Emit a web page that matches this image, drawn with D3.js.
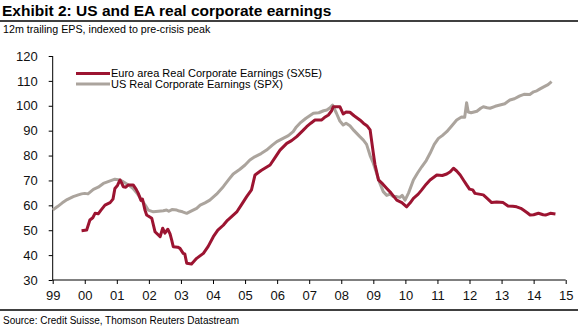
<!DOCTYPE html>
<html><head><meta charset="utf-8">
<script src="https://cdn.jsdelivr.net/npm/d3@7"></script>
<style>
body{margin:0;background:#fff;}
svg{display:block;font-family:"Liberation Sans",Arial,sans-serif;}
</style></head><body>
<svg id="c" width="578" height="329"></svg>
<script>
const titleText = "Exhibit 2: US and EA real corporate earnings";
const subtitleText = "12m trailing EPS, indexed to pre-crisis peak";
const sourceText = "Source: Credit Suisse, Thomson Reuters Datastream";
const seriesNames = ["Euro area Real Corporate Earnings (SX5E)", "US Real Corporate Earnings (SPX)"];
const xTickYears = [1999,2000,2001,2002,2003,2004,2005,2006,2007,2008,2009,2010,2011,2012,2013,2014,2015];
const xTickLabels = ["99","00","01","02","03","04","05","06","07","08","09","10","11","12","13","14","15"];
const yTicks = [30,40,50,60,70,80,90,100,110,120];

const usYears = [1999.0,1999.15,1999.3,1999.45,1999.64,1999.8,1999.9,2000.0,2000.1,2000.27,2000.42,2000.58,2000.75,2000.94,2001.05,2001.2,2001.35,2001.5,2001.65,2001.78,2001.9,2001.98,2002.14,2002.3,2002.45,2002.55,2002.62,2002.72,2002.87,2002.95,2003.05,2003.18,2003.3,2003.49,2003.6,2003.75,2003.9,2004.11,2004.32,2004.5,2004.63,2004.84,2005.0,2005.15,2005.3,2005.5,2005.67,2005.85,2005.99,2006.2,2006.35,2006.5,2006.6,2006.71,2006.9,2007.13,2007.3,2007.45,2007.55,2007.65,2007.73,2007.85,2007.95,2008.06,2008.15,2008.27,2008.4,2008.58,2008.69,2008.79,2008.9,2009.0,2009.1,2009.2,2009.31,2009.42,2009.52,2009.62,2009.73,2009.83,2009.9,2009.99,2010.1,2010.25,2010.38,2010.51,2010.65,2010.77,2010.9,2011.03,2011.15,2011.29,2011.45,2011.6,2011.75,2011.85,2011.91,2011.96,2012.05,2012.23,2012.35,2012.43,2012.55,2012.64,2012.8,2012.95,2013.1,2013.26,2013.4,2013.57,2013.7,2013.88,2014.0,2014.1,2014.2,2014.3,2014.45,2014.56];
const usValues = [58.1,59.5,61.0,62.3,63.5,64.2,64.6,64.8,64.6,66.4,67.3,68.8,69.6,70.5,70.3,69.5,68.3,66.8,64.5,62.1,59.8,58.1,57.4,57.6,57.8,58.1,57.6,58.3,58.1,57.7,57.4,56.8,57.6,58.8,60.1,61.0,62.1,64.5,67.5,70.5,72.6,74.5,76.2,78.2,79.5,80.8,82.2,84.2,85.6,87.0,88.0,89.6,91.5,93.0,95.0,97.0,97.2,98.0,98.3,99.2,100.3,97.0,94.0,92.3,93.0,92.0,90.0,87.6,86.2,84.5,80.0,76.9,73.0,69.0,65.5,64.0,64.5,63.5,63.5,63.2,64.0,62.1,65.0,70.2,73.0,75.5,78.0,80.9,84.5,86.9,88.0,89.6,92.0,94.3,95.5,95.4,101.2,97.5,97.2,97.8,99.0,99.6,99.2,99.0,99.8,100.3,100.8,102.3,102.8,104.0,104.6,104.5,105.6,106.0,106.8,107.5,108.5,109.7];

const euYears = [1999.9,2000.06,2000.16,2000.25,2000.32,2000.42,2000.5,2000.63,2000.79,2000.88,2000.94,2001.02,2001.1,2001.15,2001.2,2001.28,2001.36,2001.51,2001.6,2001.67,2001.75,2001.8,2001.88,2001.93,2002.09,2002.19,2002.35,2002.43,2002.5,2002.59,2002.66,2002.71,2002.76,2002.9,2002.97,2003.07,2003.12,2003.18,2003.33,2003.49,2003.7,2003.85,2004.01,2004.15,2004.32,2004.45,2004.58,2004.75,2004.9,2005.05,2005.2,2005.31,2005.5,2005.78,2005.95,2006.09,2006.3,2006.45,2006.61,2006.8,2006.92,2007.05,2007.18,2007.39,2007.5,2007.6,2007.7,2007.75,2007.96,2008.06,2008.15,2008.27,2008.4,2008.58,2008.69,2008.8,2008.9,2009.0,2009.05,2009.16,2009.3,2009.42,2009.55,2009.73,2009.89,2010.04,2010.15,2010.25,2010.4,2010.51,2010.65,2010.77,2010.98,2011.15,2011.29,2011.4,2011.5,2011.6,2011.71,2011.82,2011.91,2012.0,2012.1,2012.17,2012.3,2012.43,2012.55,2012.69,2012.85,2013.05,2013.2,2013.35,2013.47,2013.6,2013.68,2013.8,2013.89,2014.0,2014.15,2014.3,2014.37,2014.52,2014.68];
const euValues = [49.8,50.1,54.1,55.0,56.8,56.6,58.0,60.1,61.1,62.5,66.8,68.0,70.2,69.0,67.5,67.3,68.2,68.2,66.5,64.8,62.0,62.5,58.0,56.1,54.8,49.4,47.4,50.8,48.8,50.4,48.5,46.1,43.4,43.2,42.7,40.7,40.5,36.7,36.4,38.7,40.7,43.5,47.4,50.0,52.0,54.0,55.5,57.5,60.5,63.5,66.2,72.2,74.0,76.2,79.5,82.2,84.9,86.0,87.6,90.0,91.6,93.0,94.3,94.3,95.5,96.3,98.0,99.6,99.6,96.7,97.5,97.4,96.0,94.3,93.0,92.0,90.3,80.9,76.5,70.2,68.5,66.8,65.0,62.1,61.1,59.4,61.0,62.8,64.5,66.2,68.5,70.2,72.2,72.0,72.6,73.5,74.9,73.8,72.2,70.0,68.2,66.5,66.2,64.8,64.5,64.2,62.8,61.1,61.3,61.1,59.7,59.6,59.4,58.8,58.1,57.0,56.1,56.2,56.8,56.2,56.1,56.8,56.5];

const colors = ["#9c1431", "#aba49d"];

const svg = d3.select("#c");
const x = d3.scaleLinear().domain([1999, 2015]).range([52.7, 565.7]);
const y = d3.scaleLinear().domain([30, 120]).range([280, 56]);

// header
svg.append("text").attr("x", 2).attr("y", 16).attr("font-size", 15.5).attr("font-weight", "bold").attr("fill", "#000").text(titleText);
svg.append("line").attr("x1", 0).attr("x2", 578).attr("y1", 21).attr("y2", 21).attr("stroke", "#000").attr("stroke-width", 1.5);
svg.append("text").attr("x", 3).attr("y", 33).attr("font-size", 10.7).attr("fill", "#000").text(subtitleText);

// axes
const yAxis = d3.axisLeft(y).tickValues(yTicks).tickSize(4).tickPadding(11).tickFormat(d3.format("d"));
const gy = svg.append("g").attr("transform", `translate(${x(1999)},0)`).call(yAxis);
const xAxis = d3.axisBottom(x).tickValues(xTickYears).tickSize(4).tickPadding(7).tickFormat((d, i) => xTickLabels[i]);
const gx = svg.append("g").attr("transform", `translate(0,${y(30)})`).call(xAxis);
[gx, gy].forEach(g => {
  g.select(".domain").attr("stroke", "#000");
  g.selectAll(".tick line").attr("stroke", "#000");
  g.selectAll(".tick text").attr("font-size", 13).attr("fill", "#111").attr("font-family", '"Liberation Sans",Arial,sans-serif');
});
gx.select(".domain").attr("d", `M${x(1999)},0H${x(2015)}`);
gy.select(".domain").attr("d", `M0,${y(120)}V${y(30)}`);

// lines
const line = d3.line().x(d => x(d[0])).y(d => y(d[1]));
const euData = d3.zip(euYears, euValues);
const usData = d3.zip(usYears, usValues);
svg.append("path").datum(usData).attr("d", line).attr("fill", "none").attr("stroke", colors[1]).attr("stroke-width", 3).attr("stroke-linejoin", "round");
svg.append("path").datum(euData).attr("d", line).attr("fill", "none").attr("stroke", colors[0]).attr("stroke-width", 3).attr("stroke-linejoin", "round");

// legend
const legend = svg.append("g");
seriesNames.forEach((name, i) => {
  const ly = 73.5 + i * 10.5;
  legend.append("line").attr("x1", 76).attr("x2", 110).attr("y1", ly).attr("y2", ly).attr("stroke", colors[i]).attr("stroke-width", 3);
  legend.append("text").attr("x", 111).attr("y", ly + 3.8).attr("font-size", 11).attr("fill", "#000").text(name);
});

// footer
svg.append("line").attr("x1", 0).attr("x2", 578).attr("y1", 310).attr("y2", 310).attr("stroke", "#000").attr("stroke-width", 1.5);
svg.append("text").attr("x", 3).attr("y", 324).attr("font-size", 10).attr("fill", "#000").text(sourceText);
</script></body></html>
